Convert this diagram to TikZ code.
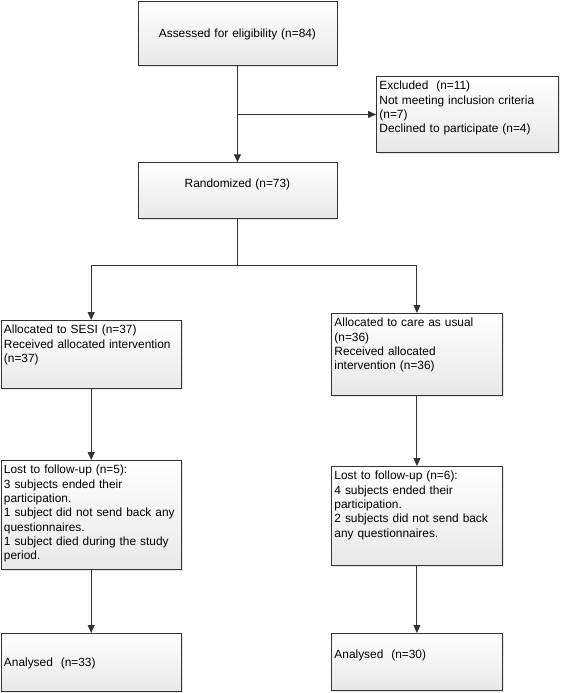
\documentclass[tikz,border=0pt]{standalone}
\usepackage{fontspec}
\setmainfont{Liberation Sans}
\usetikzlibrary{arrows.meta,shadows}

\tikzset{
  % 方框: 左上角定位, 文字靠上
  box/.style={draw=black!80, line width=0.9pt, anchor=north west, align=left,
    inner xsep=3pt, inner ysep=3pt, text height=10.5pt,
    top color=white, bottom color=black!9,
    drop shadow={shadow xshift=1.5pt, shadow yshift=-1.5pt, opacity=0.2},
    font=\fontsize{11.9}{14.3}\selectfont},
  line/.style={draw=black!80, line width=1pt},
  arr/.style={line, -{Triangle[length=8pt,width=7pt]}}
}

\begin{document}
\begin{tikzpicture}[x=1pt, y=-1pt]
        \useasboundingbox (0,0) rectangle (561,693);

        % 上半部分
        \node[box, align=center, text width=193pt, text height=33pt, text depth=25pt]
            (assess) at (137.5,1) {Assessed for eligibility (n=84)};
        \node[box, text width=176pt, text depth=59.5pt]
            (excl) at (376,76) {Excluded\ \ (n=11)\\Not meeting inclusion criteria\\(n=7)\\Declined to participate (n=4)};
        \node[box, align=center, text width=193pt, text height=21.3pt, text depth=28pt]
            (rand) at (137.5,162.3) {Randomized (n=73)};

        % 左分支
        \node[box, text width=174.5pt, text depth=51.5pt]
            (sesi) at (0.5,320) {Allocated to SESI (n=37)\\Received allocated intervention\\(n=37)};
        \node[box, text width=174.5pt, text depth=92.5pt]
            (lostA) at (0.5,460) {Lost to follow-up (n=5):\\3 subjects ended their\\participation.\\1 subject did not send back any\\questionnaires.\\1 subject died during the study\\period.};
        \node[box, text width=174.5pt, text height=30.3pt, text depth=21.4pt]
            (anaA) at (0.5,633) {Analysed\ \ (n=33)};

        % 右分支
        \node[box, text width=165pt, text depth=65.5pt]
            (care) at (331,313) {Allocated to care as usual\\(n=36)\\Received allocated\\intervention (n=36)};
        \node[box, text width=165pt, text depth=82.5pt]
            (lostB) at (331,466) {Lost to follow-up (n=6):\\4 subjects ended their\\participation.\\2 subjects did not send back\\any questionnaires.};
        \node[box, text width=165pt, text height=22.3pt, text depth=28.7pt]
            (anaB) at (331,633) {Analysed\ \ (n=30)};

        % 连线
        \draw[arr] (assess.south) -- (rand.north);
        \draw[arr] (assess.south |- excl.west) -- (excl.west);
        \coordinate (fork) at (rand.south |- 0,265.5);
        \draw[line] (rand.south) -- (fork);
        \draw[arr] (fork) -| (sesi.north);
        \draw[arr] (fork) -| (care.north);
        \draw[arr] (sesi.south) -- (lostA.north);
        \draw[arr] (lostA.south) -- (anaA.north);
        \draw[arr] (care.south) -- (lostB.north);
        \draw[arr] (lostB.south) -- (anaB.north);
    \end{tikzpicture}
\end{document}
